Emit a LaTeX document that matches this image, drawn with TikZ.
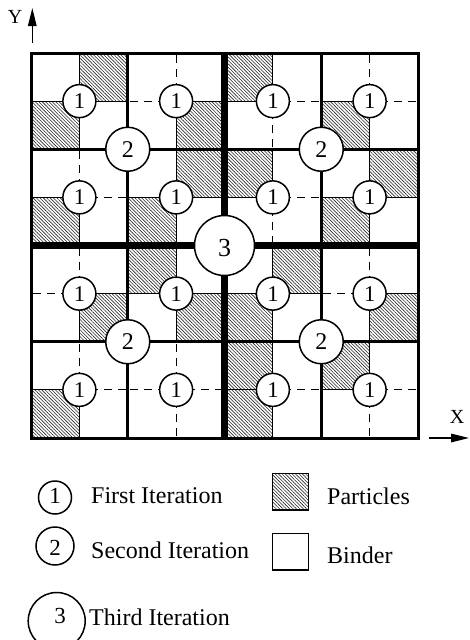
\documentclass[tikz,border=0pt]{standalone}
\usepackage{fontspec}
\setmainfont{Liberation Serif}
\usetikzlibrary{patterns.meta,arrows.meta}

% grid geometry: 8 x 8 cells
\def\gx#1{(31+48.375*(#1))}
\def\gy#1{(53+48.125*(#1))}

\tikzset{
  hatch/.style={pattern={Lines[angle=-45,distance=2.4pt,line width=0.6pt]}, pattern color=black!85},
  thinsolid/.style={line width=1.2pt},
  thindash/.style={line width=1.2pt, dash pattern=on 8pt off 6pt, dash phase=12pt},
  midline/.style={line width=3pt},
  centreline/.style={line width=7.5pt},
  frame/.style={line width=3pt},
  itercirc/.style={circle, draw, fill=white, line width=1.5pt, inner sep=0pt},
  it1/.style={itercirc, minimum size=33pt, font=\fontsize{22.5}{22.5}\selectfont},
  it2/.style={itercirc, minimum size=44pt, font=\fontsize{24}{24}\selectfont},
  it3/.style={itercirc, minimum size=60pt, font=\fontsize{26}{26}\selectfont},
  digit/.style={inner sep=0pt},
  legtext/.style={anchor=west, inner sep=0pt, font=\fontsize{24}{24}\selectfont},
  axislabel/.style={inner sep=0pt, font=\fontsize{20}{20}\selectfont},
  legbox/.style={draw, line width=1.6pt},
  axis/.style={line width=1.3pt, -{Triangle[length=18pt,width=8.5pt]}},
}

\begin{document}
\begin{tikzpicture}[x=1pt,y=-1pt]
\useasboundingbox (0,0) rectangle (469,640);

% particle cells (row/column, counted from the top left)
\foreach \r/\c in {0/1,0/4,1/0,1/3,1/6,2/3,2/4,2/7,3/0,3/2,3/6,4/2,4/5,
                   5/1,5/3,5/4,5/7,6/4,6/6,7/0,7/4}{
  \expandafter\gdef\csname hat\r-\c\endcsname{}
  \fill[hatch] ({\gx{\c}},{\gy{\r}}) rectangle ({\gx{\c+1}},{\gy{\r+1}});
}

% thin vertical lines: solid next to a particle, dashed between binder cells
\foreach \i in {1,3,5,7}{
  \foreach \j in {0,...,7}{
    \pgfmathtruncatemacro\im{\i-1}
    \pgfmathsetmacro\xx{\gx{\i}}
    \pgfmathsetmacro\ys{isodd(\j) ? \gy{\j+1} : \gy{\j}}
    \pgfmathsetmacro\ye{isodd(\j) ? \gy{\j} : \gy{\j+1}}
    \def\sty{thindash}
    \ifcsname hat\j-\im\endcsname\def\sty{thinsolid}\fi
    \ifcsname hat\j-\i\endcsname\def\sty{thinsolid}\fi
    \begingroup\edef\x{\endgroup\noexpand\draw[\sty] (\xx,\ys) -- (\xx,\ye);}\x
  }
}

% thin horizontal lines
\foreach \j in {1,3,5,7}{
  \foreach \i in {0,...,7}{
    \pgfmathtruncatemacro\jm{\j-1}
    \pgfmathsetmacro\yy{\gy{\j}}
    \pgfmathsetmacro\xs{isodd(\i) ? \gx{\i+1} : \gx{\i}}
    \pgfmathsetmacro\xe{isodd(\i) ? \gx{\i} : \gx{\i+1}}
    \def\sty{thindash}
    \ifcsname hat\jm-\i\endcsname\def\sty{thinsolid}\fi
    \ifcsname hat\j-\i\endcsname\def\sty{thinsolid}\fi
    \begingroup\edef\x{\endgroup\noexpand\draw[\sty] (\xs,\yy) -- (\xe,\yy);}\x
  }
}

% second-level boundaries
\foreach \k in {2,6}{
  \draw[midline] ({\gx{\k}},{\gy{0}}) -- ({\gx{\k}},{\gy{8}});
  \draw[midline] ({\gx{0}},{\gy{\k}}) -- ({\gx{8}},{\gy{\k}});
}
% central cross
\draw[centreline] ({\gx{4}},{\gy{0}}) -- ({\gx{4}},{\gy{8}});
\draw[centreline] ({\gx{0}},{\gy{4}}) -- ({\gx{8}},{\gy{4}});
% outer frame
\draw[frame] ({\gx{0}},{\gy{0}}) rectangle ({\gx{8}},{\gy{8}});

% first iteration
\foreach \i in {1,3,5,7}{
  \foreach \j in {1,3,5,7}{
    \node[it1] (a\i\j) at ({\gx{\i}},{\gy{\j}}) {1};
  }
}
% second iteration
\foreach \i in {2,6}{
  \foreach \j in {2,6}{
    \node[it2] (b\i\j) at ({\gx{\i}},{\gy{\j}}) {2};
  }
}
% third iteration
\node[it3] (c44) at ({\gx{4}},{\gy{4}}) {};
\node[digit, font=\fontsize{26}{26}\selectfont] (c44t) at ([yshift=-3pt]c44.center) {3};

% axes
\coordinate (ybase) at (32.3,43);
\coordinate (ytip) at (32.3,8);
\draw[axis] (ybase) -- (ytip);
\node[axislabel] (ylab) at (15,17) {Y};
\coordinate (xbase) at (429,438);
\coordinate (xtip) at (469,438);
\draw[axis] (xbase) -- (xtip);
\node[axislabel] (xlab) at (457,417) {X};

% legend
\node[itercirc, minimum size=33pt] (l1) at (55,497.5) {};
\node[digit, font=\fontsize{23}{23}\selectfont] (l1t) at (55,496) {1};
\node[legtext] (l1x) at (91,496) {First Iteration};

\node[itercirc, minimum size=38pt] (l2) at (55,546) {};
\node[digit, font=\fontsize{23}{23}\selectfont] (l2t) at (55,548) {2};
\node[legtext] (l2x) at (91,550) {Second Iteration};

\node[itercirc, minimum size=57pt] (l3) at (56.7,621) {};
\node[digit, font=\fontsize{23}{23}\selectfont] (l3t) at (60,616) {3};
\node[legtext] (l3x) at (89,617) {Third Iteration};

\filldraw[legbox, hatch] (272.3,473.5) rectangle (308.5,510) coordinate (lp);
\draw[legbox] (272.3,533.5) rectangle (308.5,570) coordinate (lb);
\node[legtext] (lpx) at (327,496) {Particles};
\node[legtext] (lbx) at (327,555) {Binder};
\end{tikzpicture}
\end{document}
